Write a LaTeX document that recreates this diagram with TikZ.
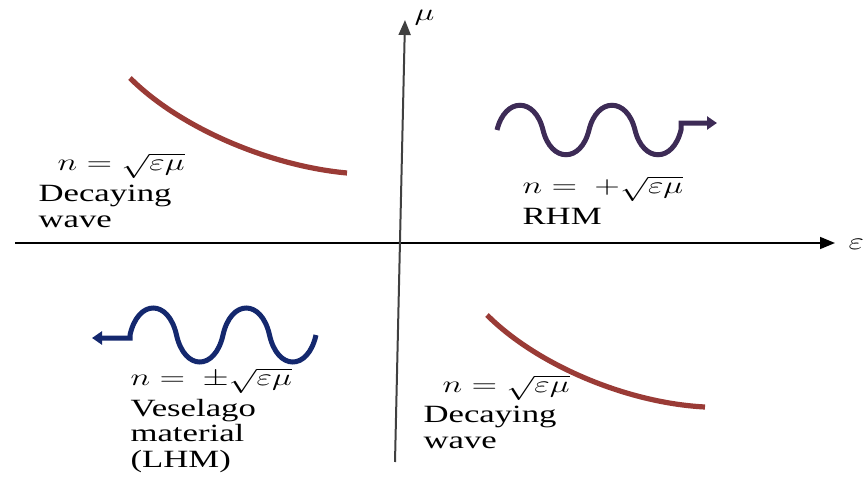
\documentclass[tikz,border=0pt]{standalone}
\usepackage{amsmath}
\usepackage{fontspec}
\setmainfont{Liberation Serif}
\usepackage{tikz}
\usepackage{xcolor}
\usetikzlibrary{arrows.meta}

\definecolor{decayred}{HTML}{9A3B36}
\definecolor{rhmpurple}{HTML}{3D2B56}
\definecolor{lhmblue}{HTML}{14286E}

\begin{document}
\begin{tikzpicture}[
    x=0.5pt, y=0.5pt,
    axis/.style={-{Triangle[length=7.5pt, width=6pt]}, line width=0.8pt},
    decay/.style={decayred, line width=2.6pt},
    wave/.style={line width=2.5pt, -{Triangle[length=5pt, width=6.5pt]}},
    lbl/.style={font=\fontsize{11.5}{12.75}\selectfont, align=left,
                anchor=base west, inner sep=0pt, xscale=1.4},
    txt/.style={lbl, font=\fontsize{12.4}{12.75}\selectfont}
  ]
    \useasboundingbox (0,0) rectangle (868,478);

    % axes
    \coordinate (eps0) at (15,235);
    \coordinate (eps1) at (835,235);
    \coordinate (mu0)  at (395,16);
    \coordinate (mu1)  at (405,458);
    \draw[axis] (eps0) -- (eps1);
    \draw[axis, black!75, line width=1pt] (mu0) -- (mu1);
    \node[lbl] (eps) at (848,229) {$\varepsilon$};
    \node[lbl] (mu)  at (414,458) {$\mu$};

    % decaying quadrants
    \draw[decay] (130,400) .. controls (180,350) and (270,312) .. (347,305);
    \draw[decay] (487,163) .. controls (537,113) and (627,75) .. (705,71);

    % right-handed wave
    \draw[wave, rhmpurple] (497,348)
      .. controls (505,381) and (535,381) .. (543,348)
      .. controls (551,315) and (581,315) .. (589,348)
      .. controls (597,381) and (627,381) .. (635,348)
      .. controls (643,315) and (673,315) .. (681,348)
      |- (717,355);

    % left-handed wave
    \draw[wave, lhmblue] (316,143)
      .. controls (308,107) and (277.5,107) .. (269.5,143)
      .. controls (261.5,179) and (231,179) .. (223,143)
      .. controls (215,107) and (184.5,107) .. (176.5,143)
      .. controls (168.5,179) and (138,179) .. (130,143)
      |- (92,140);

    % labels (multi-line ones sit on their last baseline)
    \node[lbl] (nul) at (57,308)  {$n = \sqrt{\varepsilon\mu}$};
    \node[txt] (tul) at (38,251)  {Decaying\\wave};
    \node[lbl] (nur) at (522,285) {$n =\ +\sqrt{\varepsilon\mu}$};
    \node[txt] (tur) at (522,254) {RHM};
    \node[lbl] (nll) at (130,93)  {$n =\ \pm\sqrt{\varepsilon\mu}$};
    \node[txt] (tll) at (130,11)  {Veselago\\material\\(LHM)};
    \node[lbl] (nlr) at (442,86)  {$n = \sqrt{\varepsilon\mu}$};
    \node[txt] (tlr) at (423,30)  {Decaying\\wave};
  \end{tikzpicture}
\end{document}
